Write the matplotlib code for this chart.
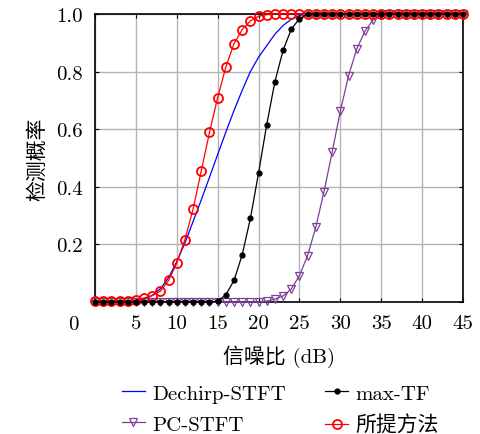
import matplotlib
matplotlib.use("Agg")
import matplotlib.pyplot as plt
import numpy as np

plt.rcParams['font.family'] = ['cmr10', 'Noto Sans CJK SC']
plt.rcParams['axes.formatter.use_mathtext'] = True
plt.rcParams['axes.unicode_minus'] = False

snr = list(range(0, 46))

dechirp = [0.001, 0.001, 0.001, 0.002, 0.003, 0.005, 0.011, 0.023, 0.046, 0.085,
           0.14, 0.205, 0.28, 0.355, 0.433, 0.512, 0.59, 0.665, 0.735, 0.80,
           0.85, 0.89, 0.93, 0.96, 0.982, 0.995] + [1.0] * 20

maxtf = [0.0] * 15 + [0.003, 0.025, 0.075, 0.164, 0.290, 0.448, 0.616, 0.765,
                      0.874, 0.947, 0.984] + [1.0] * 20

pcstft = [0.0] * 21 + [0.003, 0.01, 0.021, 0.045, 0.092, 0.161, 0.26, 0.383,
                       0.52, 0.663, 0.785, 0.878, 0.94, 0.979, 0.995] + [1.0] * 10

proposed = [0.002, 0.002, 0.002, 0.002, 0.003, 0.006, 0.014, 0.022, 0.038, 0.075,
            0.135, 0.217, 0.323, 0.456, 0.589, 0.710, 0.816, 0.897, 0.946, 0.976,
            0.992, 0.998] + [1.0] * 24

xticks = [5, 10, 15, 20, 25, 30, 35, 40, 45]
yticks = [0.2, 0.4, 0.6, 0.8, 1.0]
ytick_labels = ['0.2', '0.4', '0.6', '0.8', '1.0']

FS = 15

fig = plt.figure(figsize=(4.8, 4.35), dpi=100)
ax = fig.add_axes([95/480, 1-303/435, (463-95)/480, (303-15)/435])

l1, = ax.plot(snr, dechirp, color='#0000ff', lw=0.9, label='Dechirp-STFT', zorder=3)
l3, = ax.plot(snr, pcstft, color='#7e3f98', lw=0.9, marker='v', ms=6,
              mfc='none', mec='#7e3f98', mew=0.9, label='PC-STFT', clip_on=False, zorder=4)
l4, = ax.plot(snr, proposed, color='#ff0000', lw=0.9, marker='o', ms=6.5,
              mfc='none', mec='#ff0000', mew=1.3, label='所提方法', clip_on=False, zorder=5)
l2, = ax.plot(snr, maxtf, color='black', lw=0.9, marker='o', ms=3.5,
              label='max-TF', clip_on=False, zorder=6)

ax.set_xlim(0, 45)
ax.set_ylim(0, 1)
ax.set_xticks([0] + xticks)
ax.set_xticklabels([''] + [str(v) for v in xticks])
ax.set_yticks([0] + yticks)
ax.set_yticklabels([''] + ytick_labels)
ax.grid(True, color='#b4b4b4', lw=1.0)
ax.set_axisbelow(True)
ax.tick_params(direction='in', length=3, width=0.8, labelsize=FS, pad=9,
               top=True, right=True)
for s in ax.spines.values():
    s.set_linewidth(1.2)
    s.set_color('black')

fig.text(73/480, 1-325/435, '0', ha='center', va='center', fontsize=FS)
ax.set_xlabel('信噪比 (dB)', fontsize=FS, labelpad=9)
ax.set_ylabel('检测概率', fontsize=FS, labelpad=6)

fig.legend(handles=[l1, l3, l2, l4], ncol=2, frameon=False, fontsize=FS,
           loc='upper left', bbox_to_anchor=(122/480, 1-385/435), borderpad=0,
           borderaxespad=0, handlelength=1.1, columnspacing=1.9,
           labelspacing=0.6, handletextpad=0.35)

fig.savefig('out.png', dpi=100)
